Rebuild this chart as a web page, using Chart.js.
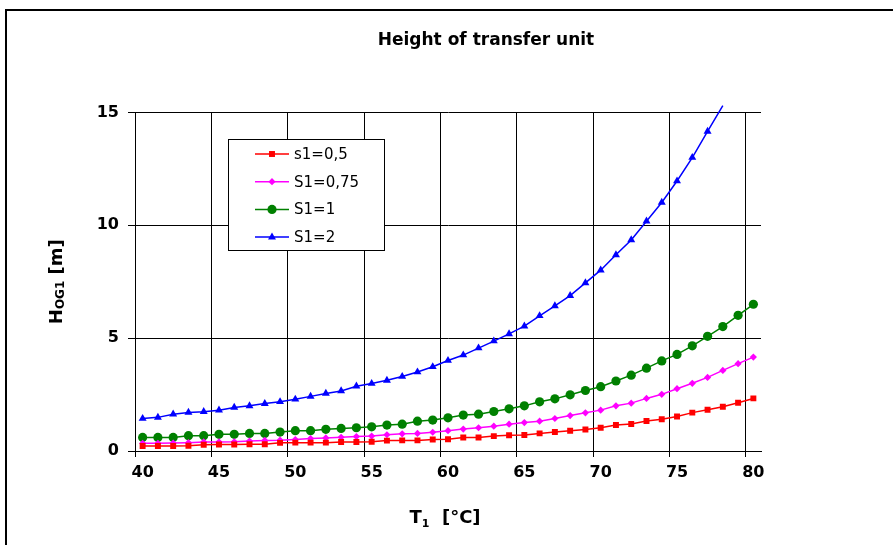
<!DOCTYPE html>
<html>
<head>
<meta charset="utf-8">
<script src="https://cdn.jsdelivr.net/npm/chart.js@4.4.0/dist/chart.umd.min.js"></script>
<style>
  html, body { margin: 0; padding: 0; background: #fff; overflow: hidden; }
  #wrap { position: relative; width: 893px; height: 545px; }
</style>
</head>
<body>
<div id="wrap"><canvas id="htuChart" width="893" height="545"></canvas></div>
<script>
// T1 [°C] categories
const temps = [40, 41, 42, 43, 44, 45, 46, 47, 48, 49,
               50, 51, 52, 53, 54, 55, 56, 57, 58, 59,
               60, 61, 62, 63, 64, 65, 66, 67, 68, 69,
               70, 71, 72, 73, 74, 75, 76, 77, 78, 79, 80];

// HOG1 [m] for each stripping factor
const s05 = [0.22, 0.22, 0.22, 0.23, 0.28, 0.29, 0.29, 0.30, 0.30, 0.36,
             0.37, 0.37, 0.37, 0.40, 0.40, 0.41, 0.46, 0.47, 0.47, 0.51,
             0.52, 0.60, 0.60, 0.66, 0.70, 0.71, 0.78, 0.84, 0.90, 0.95,
             1.03, 1.15, 1.20, 1.33, 1.41, 1.53, 1.70, 1.83, 1.96, 2.14, 2.33];
const s075 = [0.34, 0.34, 0.35, 0.37, 0.40, 0.40, 0.41, 0.44, 0.47, 0.48,
              0.51, 0.55, 0.58, 0.61, 0.64, 0.66, 0.72, 0.76, 0.78, 0.83,
              0.90, 0.97, 1.03, 1.10, 1.19, 1.26, 1.32, 1.44, 1.57, 1.69,
              1.81, 2.00, 2.12, 2.33, 2.51, 2.76, 3.00, 3.26, 3.57, 3.87, 4.16];
const s1 = [0.60, 0.60, 0.60, 0.68, 0.68, 0.74, 0.74, 0.78, 0.78, 0.84,
            0.90, 0.90, 0.96, 1.00, 1.03, 1.07, 1.15, 1.19, 1.32, 1.37,
            1.47, 1.59, 1.63, 1.75, 1.87, 2.00, 2.18, 2.31, 2.49, 2.68,
            2.85, 3.10, 3.36, 3.67, 3.99, 4.28, 4.66, 5.08, 5.51, 6.01, 6.50];
const s2 = [1.44, 1.49, 1.63, 1.71, 1.74, 1.81, 1.93, 2.00, 2.10, 2.18,
            2.29, 2.42, 2.55, 2.66, 2.87, 2.99, 3.13, 3.30, 3.50, 3.73,
            4.01, 4.25, 4.56, 4.87, 5.19, 5.53, 5.99, 6.43, 6.88, 7.45,
            8.01, 8.69, 9.35, 10.18, 11.01, 11.96, 13.00, 14.16, 15.30, null, null];

const seriesNames = ['s1=0,5', 'S1=0,75', 'S1=1', 'S1=2'];
const yTicks = [0, 5, 10, 15];

const FONT = '"DejaVu Sans", "Liberation Sans", Arial, sans-serif';

function makeSet(label, data, color, style, radius) {
    return {
        label: label,
        data: data,
        borderColor: color,
        backgroundColor: color,
        borderWidth: 1.5,
        tension: 0,
        pointStyle: style,
        pointRadius: (c) => (c.raw != null && c.raw > 15 ? 0 : radius),
        pointBorderWidth: 0,
        pointBackgroundColor: color,
        legendRadius: radius,
        clip: 8,
        spanGaps: false
    };
}

// frame, axis titles with subscripts, and the boxed legend
const extrasPlugin = {
    id: 'extras',
    beforeDraw(chart) {
        const ctx = chart.ctx;
        ctx.save();
        ctx.strokeStyle = '#000';
        ctx.lineWidth = 2;
        ctx.beginPath();
        ctx.moveTo(6, 545);
        ctx.lineTo(6, 10);
        ctx.lineTo(893, 10);
        ctx.stroke();
        ctx.restore();
    },
    afterDraw(chart) {
        const ctx = chart.ctx;
        const area = chart.chartArea;

        function drawParts(parts, cx, baseY) {
            let total = 0;
            parts.forEach(p => { ctx.font = p.font; total += ctx.measureText(p.t).width; });
            let x = cx - total / 2;
            parts.forEach(p => {
                ctx.font = p.font;
                ctx.fillText(p.t, x, baseY + p.dy);
                x += ctx.measureText(p.t).width;
            });
        }

        ctx.save();
        ctx.fillStyle = '#000';
        ctx.textBaseline = 'alphabetic';
        ctx.textAlign = 'left';

        // x title
        drawParts([
            { t: 'T', font: 'bold 18px ' + FONT, dy: 0 },
            { t: '1', font: 'bold 11px ' + FONT, dy: 4 },
            { t: '  [°C]', font: 'bold 18px ' + FONT, dy: 0 }
        ], (area.left + area.right) / 2 - 3, 523);

        // y title
        ctx.save();
        ctx.translate(62, (area.top + area.bottom) / 2);
        ctx.rotate(-Math.PI / 2);
        drawParts([
            { t: 'H', font: 'bold 18px ' + FONT, dy: 0 },
            { t: 'OG1', font: 'bold 12px ' + FONT, dy: 2 },
            { t: ' [m]', font: 'bold 18px ' + FONT, dy: 0 }
        ], 0, 0);
        ctx.restore();

        // legend box
        const box = { x: 228, y: 139, w: 156, h: 111 };
        ctx.fillStyle = '#fff';
        ctx.fillRect(box.x, box.y, box.w, box.h);
        ctx.strokeStyle = '#000';
        ctx.lineWidth = 1;
        ctx.strokeRect(box.x + 0.5, box.y + 0.5, box.w, box.h);

        chart.data.datasets.forEach((ds, i) => {
            const y = 154 + i * 27.7;
            ctx.strokeStyle = ds.borderColor;
            ctx.lineWidth = 1.5;
            ctx.beginPath();
            ctx.moveTo(255, y);
            ctx.lineTo(289, y);
            ctx.stroke();
            ctx.fillStyle = ds.borderColor;
            Chart.helpers.drawPoint(ctx, {
                pointStyle: ds.pointStyle,
                radius: ds.legendRadius,
                rotation: 0,
                borderWidth: 0
            }, 272, y);
            ctx.fillStyle = '#000';
            ctx.font = '15px ' + FONT;
            ctx.textBaseline = 'middle';
            ctx.fillText(ds.label, 294, y + 1);
            ctx.textBaseline = 'alphabetic';
        });
        ctx.restore();
    }
};

const datasets = [
    makeSet(seriesNames[0], s05, '#ff0000', 'rect', 4.2),
    makeSet(seriesNames[1], s075, '#ff00ff', 'rectRot', 3.6),
    makeSet(seriesNames[2], s1, '#008000', 'circle', 4.6),
    makeSet(seriesNames[3], s2, '#0000ff', 'triangle', 4.6)
];

const ctx = document.getElementById('htuChart').getContext('2d');
const htuChart = new Chart(ctx, {
    type: 'line',
    data: {
        labels: temps,
        datasets: datasets
    },
    options: {
        responsive: false,
        animation: false,
        layout: { padding: { left: 79, right: 0, top: 0, bottom: 0 } },
        plugins: {
            legend: { display: false },
            tooltip: { enabled: false },
            title: {
                display: true,
                text: 'Height of transfer unit',
                color: '#000',
                font: { family: FONT, size: 17, weight: 'bold' },
                padding: { top: 30, bottom: 62 }
            }
        },
        scales: {
            x: {
                type: 'category',
                offset: true,
                grid: {
                    offset: true,
                    color: (c) => (c.index % 5 === 0 ? '#000' : 'rgba(0,0,0,0)'),
                    tickColor: (c) => (c.index % 5 === 0 ? '#000' : 'rgba(0,0,0,0)'),
                    lineWidth: 1,
                    tickLength: 6
                },
                border: { display: true, color: '#000', width: 1 },
                ticks: {
                    autoSkip: false,
                    maxRotation: 0,
                    padding: 6,
                    color: '#000',
                    font: { family: FONT, size: 16, weight: 'bold' },
                    callback: function (val, idx) {
                        return idx % 5 === 0 ? String(temps[idx]) : '';
                    }
                },
                afterFit: (scale) => { scale.height = 94; }
            },
            y: {
                min: yTicks[0],
                max: yTicks[yTicks.length - 1],
                afterBuildTicks: (scale) => { scale.ticks = yTicks.map(v => ({ value: v })); },
                grid: {
                    color: '#000',
                    tickColor: '#000',
                    lineWidth: 1,
                    tickLength: 7
                },
                border: { display: true, color: '#000', width: 1 },
                ticks: {
                    padding: 9,
                    color: '#000',
                    font: { family: FONT, size: 16, weight: 'bold' }
                },
                afterFit: (scale) => { scale.width = 135 - 79; }
            },
            // empty right-hand axis that only reserves the space right of the plot
            yRight: {
                type: 'linear',
                position: 'right',
                min: 0,
                max: 15,
                grid: { display: false, drawOnChartArea: false },
                border: { display: false },
                ticks: { display: false },
                afterFit: (scale) => { scale.width = 132; }
            }
        }
    },
    plugins: [extrasPlugin]
});
</script>
</body>
</html>
